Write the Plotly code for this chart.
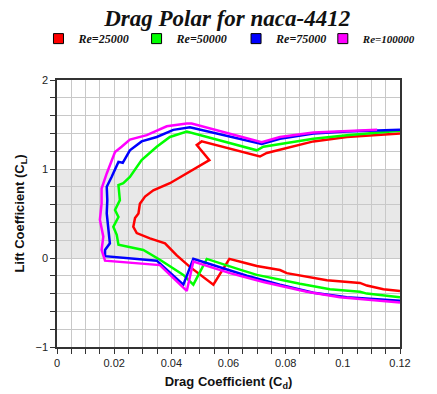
import plotly.graph_objects as go

names = ["Re=25000", "Re=50000", "Re=75000", "Re=100000"]
colors = ["#ff0000", "#00ff00", "#0000ff", "#ff00ff"]

red_cd = [0.120, 0.1142, 0.1084, 0.106, 0.0944, 0.085, 0.0804, 0.078, 0.0699, 0.0652, 0.0603, 0.0547, 0.0465, 0.0419, 0.0378, 0.0325, 0.0279, 0.0267, 0.0273, 0.0285, 0.029, 0.0308, 0.0337, 0.0395, 0.0465, 0.0533, 0.0489, 0.0506, 0.071, 0.0734, 0.0897, 0.1014, 0.120]
red_cl = [-0.37, -0.35, -0.31, -0.28, -0.25, -0.20, -0.17, -0.135, -0.09, -0.05, -0.01, -0.30, -0.10, 0.03, 0.165, 0.22, 0.28, 0.35, 0.45, 0.50, 0.61, 0.69, 0.76, 0.84, 0.97, 1.10, 1.27, 1.31, 1.14, 1.18, 1.31, 1.36, 1.40]

green_cd = [0.120, 0.1084, 0.106, 0.0955, 0.085, 0.0699, 0.064, 0.0524, 0.0477, 0.0442, 0.036, 0.0302, 0.0215, 0.0209, 0.0197, 0.0215, 0.0203, 0.022, 0.0215, 0.0232, 0.0255, 0.0296, 0.0349, 0.0395, 0.0454, 0.0699, 0.0722, 0.0897, 0.1014, 0.120]
green_cl = [-0.44, -0.40, -0.38, -0.35, -0.29, -0.19, -0.13, -0.01, -0.30, -0.19, -0.02, 0.09, 0.15, 0.26, 0.35, 0.46, 0.54, 0.65, 0.82, 0.84, 0.91, 1.10, 1.25, 1.36, 1.42, 1.21, 1.25, 1.34, 1.38, 1.43]

blue_cd = [0.120, 0.1014, 0.0897, 0.078, 0.0664, 0.0477, 0.0442, 0.0349, 0.0168, 0.0168, 0.0185, 0.018, 0.0174, 0.0176, 0.0174, 0.0191, 0.0209, 0.0215, 0.023, 0.0255, 0.0296, 0.0349, 0.0407, 0.0465, 0.0716, 0.078, 0.0897, 0.1014, 0.120]
blue_cl = [-0.48, -0.44, -0.39, -0.30, -0.20, -0.01, -0.30, -0.03, 0.02, 0.09, 0.165, 0.33, 0.50, 0.65, 0.80, 0.91, 1.03, 1.08, 1.07, 1.21, 1.31, 1.36, 1.44, 1.47, 1.28, 1.34, 1.40, 1.42, 1.44]

mag_cd = [0.120, 0.099, 0.0874, 0.0722, 0.0605, 0.0477, 0.0454, 0.036, 0.0168, 0.0156, 0.0162, 0.015, 0.0156, 0.0156, 0.0174, 0.0191, 0.0203, 0.0226, 0.0255, 0.0314, 0.0384, 0.0454, 0.0471, 0.0716, 0.078, 0.0897, 0.1014, 0.112]
mag_cl = [-0.50, -0.44, -0.38, -0.27, -0.17, -0.04, -0.37, -0.08, -0.03, 0.09, 0.24, 0.43, 0.61, 0.78, 0.95, 1.10, 1.19, 1.25, 1.33, 1.38, 1.48, 1.51, 1.51, 1.30, 1.36, 1.41, 1.43, 1.44]

series = [(red_cd, red_cl), (green_cd, green_cl), (blue_cd, blue_cl), (mag_cd, mag_cl)]
legend_ids = ["legend", "legend2", "legend3", "legend4"]
legend_x = [-0.054, 0.232, 0.522, 0.775]
legend_sizes = [12, 12, 12, 11]

fig = go.Figure()
for (cd, cl), c in zip(series, colors):
    fig.add_trace(go.Scatter(x=cd, y=cl, mode="lines", line=dict(color=c, width=2.5),
                             showlegend=False, hoverinfo="skip"))
for n, c, lid in zip(names, colors, legend_ids):
    fig.add_trace(go.Scatter(x=[None], y=[None], mode="markers", name=n, legend=lid,
                             marker=dict(symbol="square", size=10, color=c,
                                         line=dict(color="black", width=1))))

fig.add_shape(type="rect", xref="x", yref="y", x0=0, x1=0.12, y0=0, y1=1,
              fillcolor="#e8e8e8", line=dict(width=0), layer="below")

grid_col = "#c8c8c8"
axis_common = dict(showline=True, linecolor="#333333", linewidth=1.5, mirror=True,
                   ticks="outside", ticklen=5, tickcolor="#333333", zeroline=False,
                   showgrid=True, gridcolor=grid_col, gridwidth=1.3, automargin=False,
                   tickfont=dict(family="Liberation Sans, Arial", size=11, color="#222222"))

fig.update_xaxes(range=[0, 0.12], tickvals=[0, 0.02, 0.04, 0.06, 0.08, 0.1, 0.12],
                 ticktext=["0", "0.02", "0.04", "0.06", "0.08", "0.1", "0.12"],
                 minor=dict(dtick=0.005, showgrid=True, gridcolor=grid_col, gridwidth=1.3,
                            ticks="outside", ticklen=5, tickcolor="#333333"),
                 title=dict(text="<b>Drag Coefficient (C<sub>d</sub>)</b>", standoff=9,
                            font=dict(family="Liberation Sans, Arial", size=13, color="#111111")),
                 **axis_common)
fig.update_yaxes(range=[-1, 2], tickvals=[-1, 0, 1, 2], ticktext=["\u22121", "0", "1", "2"],
                 minor=dict(dtick=0.2, showgrid=True, gridcolor=grid_col, gridwidth=1.3,
                            ticks="outside", ticklen=5, tickcolor="#333333"),
                 title=dict(text="<b>Lift Coefficient (C<sub>L</sub>)</b>", standoff=8,
                            font=dict(family="Liberation Sans, Arial", size=13, color="#111111")),
                 **axis_common)

legend_layouts = {}
for lid, lx, fs in zip(legend_ids, legend_x, legend_sizes):
    legend_layouts[lid] = dict(orientation="h", x=lx, xanchor="left", y=1.155, yanchor="middle",
                               font=dict(family="Liberation Serif, Times New Roman", size=fs,
                                         color="#111111", weight="bold", style="italic"),
                               itemwidth=30, bgcolor="rgba(0,0,0,0)")

fig.update_layout(
    width=437, height=394,
    margin=dict(l=57, r=37, t=80, b=47),
    paper_bgcolor="white", plot_bgcolor="white",
    title=dict(text="<b><i>Drag Polar for naca-4412</i></b>", x=0.52, xanchor="center",
               y=0.955, yanchor="middle",
               font=dict(family="Liberation Serif, Times New Roman", size=23, color="#111111")),
    **legend_layouts,
)

fig.write_html("out.html", config={"displayModeBar": False},
               post_script="document.body.style.margin='0';document.body.style.padding='0';")
